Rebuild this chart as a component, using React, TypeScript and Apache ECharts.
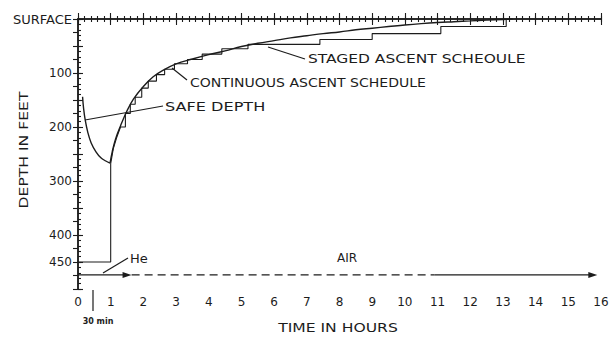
import React, { useEffect, useRef } from "react";
import * as echarts from "echarts";

const INK = "#1c1c1c";
const FONT = "DejaVu Sans";

// hours, depth (ft)
const safeDepth: [number, number][] = [
  [0.14, 144], [0.17, 165], [0.22, 187], [0.3, 210], [0.4, 229], [0.55, 246],
  [0.7, 257], [0.85, 263], [0.98, 267],
];

const continuousAscent: [number, number][] = [
  [0.98, 267], [1.05, 245], [1.15, 222], [1.3, 198], [1.5, 170], [1.7, 148],
  [2.0, 125], [2.3, 107], [2.6, 95], [3.0, 83], [3.5, 74], [4.0, 66],
  [4.5, 59], [5.0, 51], [5.5, 45], [6.0, 40], [6.5, 35], [7.0, 31],
  [7.5, 27], [8.0, 24], [8.5, 20], [9.0, 17], [9.5, 14], [10.0, 11],
  [10.5, 8.5], [11.0, 6.5], [11.5, 5], [12.0, 3.5], [12.5, 2], [13.0, 0.8], [13.3, 0],
];

const stagedAscent: [number, number][] = [
  [0, 450], [1, 450], [1, 268], [1.08, 240], [1.18, 220], [1.3, 200],
  [1.45, 200], [1.45, 175], [1.6, 175], [1.6, 158], [1.75, 158], [1.75, 145],
  [1.95, 145], [1.95, 128], [2.15, 128], [2.15, 115], [2.4, 115], [2.4, 103],
  [2.65, 103], [2.65, 93], [2.95, 93], [2.95, 83], [3.35, 83], [3.35, 75],
  [3.8, 75], [3.8, 65], [4.4, 65], [4.4, 55], [5.2, 55], [5.2, 47],
  [7.4, 47], [7.4, 38], [9.0, 38], [9.0, 27], [11.1, 27], [11.1, 14],
  [13.1, 14], [13.1, 0],
];

const gasDepth = 474;
const heliumSpan = [0, 1.5];
const airDashedSpan = [1.64, 10.9];
const airSolidSpan = [10.9, 15.75];

const yTickLabels: [number, string][] = [
  [0, "{s|SURFACE}"], [100, "100"], [200, "200"], [300, "300"], [400, "400"], [450, "450"],
];

const arrowEnd = (x: number, y: number) => ({
  value: [x, y],
  symbol: "triangle",
  symbolSize: [6, 9],
  symbolRotate: -90,
  itemStyle: { color: INK },
});

export default function App() {
  const ref = useRef<HTMLDivElement>(null);
  useEffect(() => {
    if (!ref.current) return;
    const chart = echarts.init(ref.current, undefined, { renderer: "svg" });
    const labelMap = new Map(yTickLabels);
    const lineBase = {
      type: "line",
      symbol: "none",
      showSymbol: true,
      lineStyle: { color: INK, width: 1.4 },
      itemStyle: { color: INK },
      silent: true,
      xAxisIndex: 0,
      yAxisIndex: 0,
    };
    const textStyle = { color: INK, fontFamily: FONT };
    const axisLine = { lineStyle: { color: INK, width: 1.5 } };
    const noLine = { show: false };
    const tick = (len: number) => ({ inside: true, length: len, lineStyle: { color: INK, width: 1.1 } });
    const hAxis = (position: string, interval: number, len: number, showLine: boolean) => ({
      type: "value", min: 0, max: 16, interval, position,
      axisLine: showLine ? axisLine : noLine,
      axisTick: tick(len),
      axisLabel: { show: false },
      splitLine: { show: false },
    });
    const vAxis = (position: string, interval: number, len: number, showLine: boolean) => ({
      type: "value", inverse: true, min: 0, max: 500, interval, position,
      axisLine: showLine ? axisLine : noLine,
      axisTick: tick(len),
      axisLabel: { show: false },
      splitLine: { show: false },
    });
    const option: any = {
      animation: false,
      backgroundColor: "#ffffff",
      grid: { left: 78, right: 9, top: 19, bottom: 49, containLabel: false, outerBoundsMode: "none" },
      xAxis: [
        {
          ...hAxis("bottom", 1, 6, true),
          axisLabel: { ...textStyle, fontSize: 12, margin: 7 },
        },
        hAxis("top", 1, 6, true),
        hAxis("bottom", 0.2, 3, false),
        hAxis("top", 0.2, 3, false),
      ],
      yAxis: [
        {
          ...vAxis("left", 50, 5, true),
          axisLabel: {
            ...textStyle, fontSize: 12, margin: 6,
            formatter: (v: number) => labelMap.get(v) ?? "",
            rich: { s: { fontFamily: FONT, fontSize: 13, color: INK } },
          },
        },
        vAxis("right", 25, 5, true),
        vAxis("left", 10, 3, false),
      ],
      series: [
        { ...lineBase, name: "Safe depth", data: safeDepth, smooth: 0.4 },
        { ...lineBase, name: "Continuous ascent", data: continuousAscent, smooth: 0.4 },
        { ...lineBase, name: "Staged ascent", data: stagedAscent, lineStyle: { color: INK, width: 1.1 } },
        {
          ...lineBase, name: "He",
          data: [[heliumSpan[0], gasDepth], arrowEnd(heliumSpan[1], gasDepth)],
          lineStyle: { color: INK, width: 1.2 },
        },
        {
          ...lineBase, name: "AIR dashed",
          data: [[airDashedSpan[0], gasDepth], [airDashedSpan[1], gasDepth]],
          lineStyle: { color: INK, width: 1.2, type: [8, 5] },
        },
        {
          ...lineBase, name: "AIR",
          data: [[airSolidSpan[0], gasDepth], arrowEnd(airSolidSpan[1], gasDepth)],
          lineStyle: { color: INK, width: 1.2 },
        },
      ],
      graphic: [
        { type: "line", shape: { x1: 85, y1: 120, x2: 163, y2: 106 }, style: { stroke: INK, lineWidth: 1.2 } },
        { type: "line", shape: { x1: 172, y1: 68, x2: 187, y2: 80 }, style: { stroke: INK, lineWidth: 1.2 } },
        { type: "line", shape: { x1: 268, y1: 47, x2: 305, y2: 59 }, style: { stroke: INK, lineWidth: 1.2 } },
        { type: "line", shape: { x1: 103, y1: 273, x2: 128, y2: 258 }, style: { stroke: INK, lineWidth: 1.2 } },
        { type: "line", shape: { x1: 93, y1: 290, x2: 93, y2: 311 }, style: { stroke: INK, lineWidth: 1.2 } },
        {
          type: "text", x: 165, y: 106, scaleX: 1.24,
          style: { text: "SAFE DEPTH", font: `13px "${FONT}"`, fill: INK, verticalAlign: "middle" },
        },
        {
          type: "text", x: 190, y: 82, scaleX: 1.08,
          style: { text: "CONTINUOUS ASCENT SCHEDULE", font: `13px "${FONT}"`, fill: INK, verticalAlign: "middle" },
        },
        {
          type: "text", x: 308, y: 58, scaleX: 1.19,
          style: { text: "STAGED ASCENT SCHEOULE", font: `13px "${FONT}"`, fill: INK, verticalAlign: "middle" },
        },
        {
          type: "text", x: 130, y: 258,
          style: { text: "He", font: `13px "${FONT}"`, fill: INK, verticalAlign: "middle" },
        },
        {
          type: "text", x: 337, y: 258,
          style: { text: "AIR", font: `12px "${FONT}"`, fill: INK, verticalAlign: "middle" },
        },
        {
          type: "text", x: 98, y: 321,
          style: { text: "30 min", font: `bold 8px "${FONT}"`, fill: INK, align: "center", verticalAlign: "middle" },
        },
        {
          type: "text", x: 338, y: 327, scaleX: 1.2,
          style: { text: "TIME IN HOURS", font: `13px "${FONT}"`, fill: INK, align: "center", verticalAlign: "middle" },
        },
        {
          type: "text", x: 23, y: 150, rotation: Math.PI / 2, scaleX: 1.2,
          style: { text: "DEPTH IN FEET", font: `13px "${FONT}"`, fill: INK, align: "center", verticalAlign: "middle" },
        },
      ],
    };
    chart.setOption(option);
    return () => chart.dispose();
  }, []);
  return (
    <div
      ref={ref}
      style={{ position: "absolute", left: 0, top: 0, width: 610, height: 338, background: "#fff" }}
    />
  );
}
